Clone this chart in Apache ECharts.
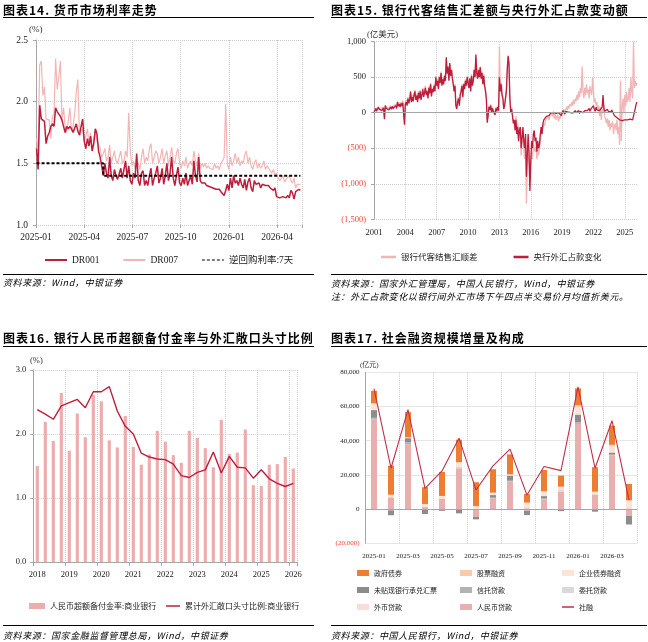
<!DOCTYPE html>
<html>
<head>
<meta charset="utf-8">
<script src="https://cdn.jsdelivr.net/npm/echarts@6/dist/echarts.min.js"></script>
<style>
body{margin:0;background:#fff;}
#page{position:relative;width:648px;height:642px;overflow:hidden;font-family:"Noto Sans CJK SC",sans-serif;color:#000;}
#chart{position:absolute;left:0;top:0;width:648px;height:642px;}
.title{position:absolute;font-size:12px;line-height:14px;font-weight:bold;letter-spacing:1px;white-space:nowrap;}
.rule{position:absolute;height:0;border-top:1px solid #000;}
.rule.thick{border-top-width:1.5px;}
.src{position:absolute;font-size:9px;line-height:12px;font-style:italic;letter-spacing:0.6px;white-space:nowrap;}
.unit{position:absolute;font-family:"Liberation Serif","Noto Sans CJK SC",serif;color:#333;white-space:nowrap;}
</style>
</head>
<body>
<div id="page">
  <div id="chart"></div>
  <div class="title" style="left:3px;top:3px">图表14. 货币市场利率走势</div>
  <div class="title" style="left:331px;top:3px">图表15. 银行代客结售汇差额与央行外汇占款变动额</div>
  <div class="title" style="left:3px;top:331px">图表16. 银行人民币超额备付金率与外汇敞口头寸比例</div>
  <div class="title" style="left:331px;top:331px">图表17. 社会融资规模增量及构成</div>
  <div class="rule thick" style="left:3px;top:17px;width:311px"></div>
  <div class="rule thick" style="left:331px;top:17px;width:316px"></div>
  <div class="rule thick" style="left:3px;top:345.5px;width:311px"></div>
  <div class="rule thick" style="left:331px;top:345.5px;width:316px"></div>
  <div class="rule" style="left:3px;top:274px;width:311px"></div>
  <div class="rule" style="left:331px;top:274px;width:316px"></div>
  <div class="rule" style="left:3px;top:625px;width:311px"></div>
  <div class="rule" style="left:331px;top:625px;width:316px"></div>
  <div class="src" style="left:3px;top:277px">资料来源：Wind，中银证券</div>
  <div class="src" style="left:331px;top:278px">资料来源：国家外汇管理局，中国人民银行，Wind，中银证券</div>
  <div class="src" style="left:331px;top:291px">注：外汇占款变化以银行间外汇市场下午四点半交易价月均值折美元。</div>
  <div class="src" style="left:3px;top:630px">资料来源：国家金融监督管理总局，Wind，中银证券</div>
  <div class="src" style="left:331px;top:630px">资料来源：中国人民银行，Wind，中银证券</div>
  <div class="unit" style="left:29px;top:24px;font-size:9px">(%)</div>
  <div class="unit" style="left:367px;top:27px;font-size:8.5px">(亿美元)</div>
  <div class="unit" style="left:30px;top:355px;font-size:8.5px">(%)</div>
  <div class="unit" style="left:360px;top:359px;font-size:7px">(亿元)</div>
</div>
<script>
// ---- 图表14 货币市场利率（每3天取一点，起点 2025-01-02 = 第1天）
const drFirstDay = 1
const drStepDays = 3
const dr001 = [
  1.62, 1.45, 1.97, 1.86, 1.85, 1.84, 1.66, 1.72, 1.75, 1.80,
  1.82, 1.80, 1.95, 1.92, 1.93, 1.88, 1.85, 1.80, 1.75, 1.80,
  1.78, 1.80, 1.78, 1.75, 1.74, 1.82, 1.76, 1.73, 1.74, 1.86,
  1.68, 1.62, 1.70, 1.64, 1.72, 1.60, 1.66, 1.78, 1.74, 1.60,
  1.55, 1.48, 1.40, 1.50, 1.42, 1.38, 1.55, 1.40, 1.36, 1.45,
  1.40, 1.37, 1.37, 1.46, 1.38, 1.38, 1.52, 1.38, 1.48, 1.36,
  1.33, 1.42, 1.38, 1.58, 1.36, 1.32, 1.42, 1.44, 1.32, 1.36,
  1.32, 1.40, 1.46, 1.32, 1.38, 1.42, 1.48, 1.34, 1.38, 1.46,
  1.33, 1.40, 1.50, 1.36, 1.42, 1.55, 1.38, 1.32, 1.40, 1.47,
  1.34, 1.32, 1.38, 1.33, 1.42, 1.32, 1.36, 1.40, 1.33, 1.52,
  1.40, 1.35, 1.55, 1.36, 1.34, 1.33, 1.34, 1.32, 1.32, 1.31,
  1.31, 1.30, 1.30, 1.29, 1.28, 1.29, 1.27, 1.26, 1.24, 1.28,
  1.33, 1.28, 1.38, 1.30, 1.40, 1.34, 1.36, 1.32, 1.38, 1.33,
  1.30, 1.37, 1.28, 1.35, 1.38, 1.30, 1.27, 1.36, 1.33, 1.32,
  1.34, 1.30, 1.33, 1.32, 1.32, 1.33, 1.32, 1.30, 1.30, 1.28,
  1.30, 1.23, 1.22, 1.22, 1.22, 1.23, 1.22, 1.22, 1.24, 1.22,
  1.28, 1.26, 1.21, 1.27, 1.27, 1.29, 1.28
]
const dr007 = [
  1.70, 1.60, 2.30, 2.33, 2.05, 2.12, 1.86, 1.86, 1.85, 1.70,
  1.88, 1.90, 2.35, 2.10, 2.20, 2.33, 1.85, 1.95, 1.80, 1.75,
  1.85, 1.95, 1.76, 1.80, 1.90, 2.08, 2.18, 1.72, 1.75, 1.78,
  1.68, 1.72, 1.78, 1.65, 1.75, 1.60, 1.70, 1.76, 1.68, 1.65,
  1.62, 1.55, 1.58, 1.62, 1.52, 1.55, 1.65, 1.50, 1.55, 1.60,
  1.52, 1.50, 1.55, 1.60, 1.50, 1.52, 1.60, 1.55, 1.91, 1.60,
  1.48, 1.52, 1.45, 1.55, 1.50, 1.45, 1.55, 1.62, 1.50, 1.55,
  1.52, 1.62, 1.66, 1.50, 1.55, 1.60, 1.58, 1.50, 1.55, 1.62,
  1.50, 1.56, 1.60, 1.48, 1.55, 1.63, 1.52, 1.50, 1.58, 1.62,
  1.50, 1.46, 1.52, 1.48, 1.55, 1.46, 1.50, 1.52, 1.48, 1.60,
  1.52, 1.48, 1.58, 1.46, 1.50, 1.47, 1.50, 1.46, 1.48, 1.46,
  1.47, 1.45, 1.50, 1.46, 1.48, 1.45, 1.50, 1.52, 1.55, 1.98,
  1.50, 1.45, 1.55, 1.48, 1.52, 1.58, 1.50, 1.55, 1.48, 1.52,
  1.50, 1.57, 1.60, 1.50, 1.55, 1.48, 1.45, 1.50, 1.53, 1.46,
  1.50, 1.46, 1.48, 1.52, 1.45, 1.48, 1.46, 1.44, 1.42, 1.45,
  1.40, 1.42, 1.38, 1.36, 1.38, 1.40, 1.35, 1.37, 1.36, 1.40,
  1.36, 1.34, 1.38, 1.30, 1.33, 1.32, 1.33
]
// 逆回购利率：按距 2025-01-01 的天数
const repoDays = [1, 127, 499]
const repoRate = [1.5, 1.4, 1.4]
const drTickLabels = ['2025-01', '2025-04', '2025-07', '2025-10', '2026-01', '2026-04']

// ---- 图表15 结售汇差额 / 外汇占款变化（月度，2001-01 起，亿美元）
const fxSettle = [
  20, 50, 40, 30, 60, 70, 40, 50, 30, 60, 80, 60,
  -60, 110, 80, 60, 90, 60, 70, 100, 60, 80, 90, 100,
  100, 120, 90, 160, 110, 140, 100, 150, 120, 170, 180, -120,
  140, 180, 120, 220, 160, 200, 280, 170, 250, 190, 270, 320,
  200, 260, 170, 300, 230, 320, 200, 270, 350, 250, 300, 380,
  270, 320, 230, 370, 290, 420, 260, 350, 310, 400, 330, 520,
  400, 470, 350, 520, 440, 580, 400, 490, 420, 540, 470, 750,
  580, 620, 470, 680, 540, 620, 500, 420, 320, 400, 130, 80,
  170, 220, 130, 270, 320, 400, 250, 420, 350, 470, 400, 520,
  440, 370, 500, 330, 540, 400, 470, 620, 520, 780, 560, 500,
  620, 520, 650, 500, 580, 430, 540, 400, 330, 230, -100, -30,
  100, 60, 120, 20, 80, 40, 60, -10, 80, 40, 100, 50,
  930, 300, 420, 280, 220, 80, 120, 220, 320, 620, 780, 680,
  250, 50, 80, -20, -100, -80, -200, -50, -250, -150, -350, -300,
  -250, -600, -400, -250, -500, -650, -350, -1280, -800, -450, -700, -900,
  -700, -550, -650, -450, -500, -550, -480, -650, -520, -600, -500, -400,
  -300, -250, -200, -150, -180, -100, -80, -120, -60, -100, -40, -20,
  0, -50, 20, -80, -20, -100, -60, -30, -120, -50, -80, 10,
  -40, 20, 50, -20, 30, 80, 40, 100, 60, 120, 90, 150,
  100, 180, 120, 200, 160, 250, 180, 300, 220, 350, 280, 650,
  300, 200, 350, 250, 400, 280, 330, 200, 380, 300, 250, 500,
  300, 150, 200, 100, 150, 50, 100, -50, 80, -100, 50, 0,
  100, -50, -100, -150, -80, -200, -100, -250, -150, -200, -120, -300,
  -200, -150, -250, -100, -300, -200, -450, 450, -400, 100, 200, 0,
  250, 100, 300, 150, 200, 350, 150, 500, 300, 200, 1000, 350,
  450, 380, 420
]
const cbFx = [
  0, 30, 60, 20, 40, 80, 50, 40, 60, 30, 50, 70,
  -90, 100, 60, 50, 70, 40, 60, 80, 50, 90, 60, 70,
  80, 100, 60, 150, 90, 120, 80, 130, 100, 140, 160, -170,
  120, 150, 100, 200, 130, 180, 300, 150, 220, 160, 250, 300,
  180, 240, 150, 280, 200, 300, 180, 250, 330, 220, 280, 350,
  250, 300, 200, 350, 270, 400, 230, 330, 290, 380, 300, 500,
  380, 450, 330, 500, 420, 560, 380, 470, 400, 520, 450, 780,
  550, 650, 450, 700, 520, 600, 480, 400, 300, 380, 100, 50,
  150, 200, 100, 250, 300, 380, 220, 400, 330, 450, 380, 500,
  420, 350, 480, 300, 520, 380, 450, 600, 500, 820, 550, 480,
  600, 500, 640, 480, 560, 400, 520, 380, 300, 200, -140, -50,
  80, 40, 100, 0, 60, 20, 40, -30, 60, 20, 80, 30,
  500, 300, 400, 250, 200, 50, 100, 200, 300, 600, 800, 700,
  200, 0, 50, -50, -150, -100, -250, -100, -300, -200, -400, -250,
  -200, -500, -350, -200, -400, -500, -300, -900, -600, -300, -550, -1100,
  -700, -400, -500, -300, -250, -400, -350, -550, -400, -500, -450, -300,
  -200, -300, -150, -100, -120, -80, -50, -60, -30, -40, -20, 0,
  20, 10, 0, -20, 10, -10, -30, 10, 0, -20, 10, -40,
  0, 30, 10, -20, 20, 0, 30, 10, -10, 20, 0, 10,
  20, 0, 10, 30, 0, 10, 20, 30, -10, 20, 30, 40,
  0, 20, 30, 10, 40, 30, 10, 60, 20, 50, 60, 30,
  100, 50, 20, 80, 40, 20, 60, 30, 50, 40, 80, 250,
  60, 20, 40, 10, 50, 20, 0, 30, 10, 40, 20, 30,
  -40, -50, -60, -70, -80, -90, -100, -90, -100, -110, -100, -110,
  -100, -110, -90, -100, -100, -100, -90, -100, -110, -100, -100, -80,
  60, 120, 150
]

// ---- 图表16 超额备付金率 / 外汇敞口头寸比例（季度，2018Q1 起，%）
const excessReserve = [
  1.50, 2.19, 1.89, 2.64,
  1.74, 2.32, 1.95, 2.61,
  2.51, 1.90, 1.79, 2.28,
  1.80, 1.52, 1.68, 2.05,
  1.88, 1.67, 1.55, 2.05,
  1.94, 1.78, 1.48, 2.22,
  1.69, 1.71, 2.07, 1.20,
  1.19, 1.52, 1.53, 1.64,
  1.46
]
const fxExposure = [
  2.38, 2.31, 2.23, 2.44,
  2.49, 2.54, 2.41, 2.66,
  2.66, 2.74, 2.36, 2.12,
  2.00, 1.70, 1.64, 1.61,
  1.60, 1.53, 1.35, 1.32,
  1.40, 1.44, 1.72, 1.39,
  1.65, 1.48, 1.47, 1.31,
  1.44, 1.30, 1.23, 1.18,
  1.23
]

// ---- 图表17 社融增量及构成（亿元）
const sfMonths = ['2025-01', '2025-02', '2025-03', '2025-04', '2025-05', '2025-06', '2025-07', '2025-08',
  '2025-09', '2025-10', '2025-11', '2025-12', '2026-01', '2026-02', '2026-03', '2026-04']
const rmbLoan = [52400, 6900, 38000, 1200, 6200, 23900, -4500, 6200, 16100, -1000, 5700, 10200, 49800, 8600, 31400, -4000]
const fxLoan = [0, 0, 0, 0, 0, 0, 0, 0, 0, 0, 0, 0, 0, 0, 0, 1200]
const entrustLoan = [0, 0, 0, 0, 0, 1000, 0, 0, 0, 1000, 0, 1400, 0, 0, 0, 0]
const trustLoan = [1000, -800, 1000, -400, 0, 0, 0, 500, 500, 0, 700, 0, 1000, 0, 500, 0]
const billAccept = [4500, -2800, 2500, -2500, -1000, -2500, -1500, 1500, 3000, -2500, 1200, -1200, 4500, -1500, 1200, -5000]
const corpBond = [3900, 1200, 500, 1500, 1500, 2500, 1500, 1400, 700, 2300, 2400, 1500, 4500, 1200, 3500, 3500]
const equityFin = [0, 300, 0, 300, 0, 0, 300, 0, 0, 500, 600, 0, 1000, 400, 1000, 600]
const govBond = [7400, 17000, 14700, 9800, 14000, 13200, 13900, 13700, 11700, 5000, 12300, 6500, 9800, 14300, 11200, 9400]
const sfTotal = [70400, 23900, 58200, 12150, 22300, 41500, 11200, 25300, 35100, 8200, 24900, 22500, 71500, 23900, 51700, 5300]

// 类目
const months = []
for (let y = 2001; y <= 2026; y++) {
  for (let m = 1; m <= 12; m++) {
    if (y === 2026 && m > 3) break
    months.push(y + '-' + (m < 10 ? '0' + m : m))
  }
}
const quarters = []
for (let y = 2018; y <= 2026; y++) {
  for (let q = 1; q <= 4; q++) {
    if (y === 2026 && q > 1) break
    quarters.push(y + 'Q' + q)
  }
}

function thousands(v) {
  const n = Math.abs(Number(v))
  const s = n.toLocaleString('en-US')
  return Number(v) < 0 ? '(' + s + ')' : s
}
function isTriYear(i, v) {
  return v.slice(5) === '01' && (Number(v.slice(0, 4)) - 2001) % 3 === 0
}

const serif = 'Liberation Serif, Noto Sans CJK SC'
const cjk = 'Noto Sans CJK SC'
const axisGray = '#A6A6A6'
const dottedStyle = { type: 'dotted', color: '#CCCCCC', width: 1 }
const negRed = '#F0463C'
const darkRed = '#BE1E3C'
const lightPink = '#F2B5B5'
const dashIcon = 'path://M0,0h3v1h-3z M5,0h3v1h-3z M10,0h3v1h-3z M15,0h3v1h-3z M20,0h2v1h-2z'

const chart = echarts.init(document.getElementById('chart'))

chart.setOption({
  animation: false,
  grid: [
    { left: 36, top: 40, width: 266, height: 185 },
    { left: 374, top: 41.7, width: 263, height: 177.6 },
    { left: 33.3, top: 370, width: 264, height: 192 },
    { left: 365.5, top: 372.3, width: 272, height: 171 }
  ],
  legend: [
    {
      data: [{ name: 'DR001', icon: 'rect' }, { name: 'DR007', icon: 'rect' }, { name: '逆回购利率:7天', icon: dashIcon }],
      left: 45, top: 254, padding: 0, itemWidth: 22, itemHeight: 2, itemGap: 24,
      textStyle: { fontFamily: serif, fontSize: 9.5, lineHeight: 12, color: '#222' }
    },
    {
      data: [{ name: '银行代客结售汇顺差', icon: 'rect' }, { name: '央行外汇占款变化', icon: 'rect' }],
      left: 381, top: 251, padding: 0, itemWidth: 15, itemHeight: 2.5, itemGap: 36,
      textStyle: { fontFamily: cjk, fontSize: 8.5, lineHeight: 12, color: '#222' }
    },
    {
      data: [{ name: '人民币超额备付金率:商业银行', icon: 'rect' }],
      left: 29, top: 600, padding: 0, itemWidth: 16, itemHeight: 6,
      textStyle: { fontFamily: cjk, fontSize: 8, lineHeight: 12, color: '#222' }
    },
    {
      data: [{ name: '累计外汇敞口头寸比例:商业银行', icon: 'rect' }],
      left: 166, top: 600, padding: 0, itemWidth: 14, itemHeight: 1.5,
      textStyle: { fontFamily: cjk, fontSize: 8, lineHeight: 12, color: '#222' }
    },
    {
      orient: 'vertical', left: 357, top: 568, padding: 0, itemWidth: 12, itemHeight: 6, itemGap: 7, icon: 'rect',
      data: ['政府债券', '未贴现银行承兑汇票', '外币贷款'],
      textStyle: { fontFamily: cjk, fontSize: 7, lineHeight: 10, color: '#222' }
    },
    {
      orient: 'vertical', left: 460, top: 568, padding: 0, itemWidth: 12, itemHeight: 6, itemGap: 7, icon: 'rect',
      data: ['股票融资', '信托贷款', '人民币贷款'],
      textStyle: { fontFamily: cjk, fontSize: 7, lineHeight: 10, color: '#222' }
    },
    {
      orient: 'vertical', left: 562, top: 568, padding: 0, itemWidth: 12, itemHeight: 6, itemGap: 7, icon: 'rect',
      data: ['企业债券融资', '委托贷款'],
      textStyle: { fontFamily: cjk, fontSize: 7, lineHeight: 10, color: '#222' }
    },
    {
      left: 562, top: 602, padding: 0, itemWidth: 12, itemHeight: 1.5, icon: 'rect',
      data: ['社融'],
      textStyle: { fontFamily: cjk, fontSize: 7, lineHeight: 10, color: '#222' }
    }
  ],
  xAxis: [
    {
      // 距 2025-01-01 的天数，每季约 91 天
      type: 'value', gridIndex: 0, min: 0, max: 502, interval: 91,
      axisLine: { show: false },
      axisTick: { show: true, length: 3, lineStyle: { color: axisGray } },
      axisLabel: {
        margin: 8, fontFamily: serif, fontSize: 9.5, color: '#222',
        formatter: function (v) {
          const k = v / 91
          return Math.abs(k - Math.round(k)) < 0.01 ? (drTickLabels[Math.round(k)] || '') : ''
        }
      },
      splitLine: { show: true, lineStyle: dottedStyle }
    },
    {
      type: 'category', gridIndex: 1, data: months, boundaryGap: false,
      axisLine: { show: false },
      axisTick: { show: false },
      axisLabel: {
        margin: 9, fontFamily: serif, fontSize: 8.5, color: '#222',
        interval: isTriYear,
        formatter: function (v) { return v.slice(0, 4) }
      },
      splitLine: { show: true, interval: isTriYear, lineStyle: dottedStyle }
    },
    {
      type: 'category', gridIndex: 2, data: quarters, boundaryGap: true,
      axisLine: { show: true, lineStyle: { color: axisGray } },
      axisTick: { show: true, interval: 3, length: 4, lineStyle: { color: axisGray } },
      axisLabel: {
        interval: 3, margin: 9, fontFamily: serif, fontSize: 8.5, color: '#222',
        formatter: function (v) { return v.slice(0, 4) }
      },
      splitLine: { show: true, interval: 3, lineStyle: dottedStyle }
    },
    {
      type: 'category', gridIndex: 3, data: sfMonths, boundaryGap: true,
      axisLine: { show: false },
      axisTick: { show: false },
      axisLabel: { interval: 1, margin: 9, fontFamily: serif, fontSize: 7, color: '#222' },
      splitLine: { show: true, interval: 1, lineStyle: dottedStyle }
    }
  ],
  yAxis: [
    {
      type: 'value', gridIndex: 0, min: 1.0, max: 2.5, interval: 0.5,
      axisLine: { show: true, lineStyle: { color: axisGray } },
      axisTick: { show: true, length: 3, lineStyle: { color: axisGray } },
      axisLabel: { margin: 8, fontFamily: serif, fontSize: 9.5, color: '#222', formatter: function (v) { return v.toFixed(1) } },
      splitLine: { show: true, lineStyle: dottedStyle }
    },
    {
      type: 'value', gridIndex: 1, min: -1500, max: 1000, interval: 500,
      axisLine: { show: true, lineStyle: { color: axisGray } },
      axisTick: { show: true, length: 3, lineStyle: { color: axisGray } },
      axisLabel: {
        margin: 8, fontFamily: serif, fontSize: 8.5, formatter: thousands,
        color: function (v) { return Number(v) < 0 ? negRed : '#222' }
      },
      splitLine: { show: true, lineStyle: dottedStyle }
    },
    {
      type: 'value', gridIndex: 2, min: 0, max: 3, interval: 1,
      axisLine: { show: true, lineStyle: { color: axisGray } },
      axisTick: { show: true, length: 3, lineStyle: { color: axisGray } },
      axisLabel: { margin: 7, fontFamily: serif, fontSize: 8.5, color: '#222', formatter: function (v) { return v.toFixed(1) } },
      splitLine: { show: true, lineStyle: dottedStyle }
    },
    {
      type: 'value', gridIndex: 3, min: -20000, max: 80000, interval: 20000,
      axisLine: { show: true, lineStyle: { color: axisGray } },
      axisTick: { show: false },
      axisLabel: {
        margin: 6, fontFamily: serif, fontSize: 7, formatter: thousands,
        color: function (v) { return Number(v) < 0 ? negRed : '#222' }
      },
      splitLine: { show: true, lineStyle: dottedStyle }
    }
  ],
  series: [
    {
      name: 'DR007', type: 'line', xAxisIndex: 0, yAxisIndex: 0, symbol: 'none',
      lineStyle: { color: lightPink, width: 1.2 }, itemStyle: { color: lightPink },
      data: dr007.map(function (v, i) { return [drFirstDay + drStepDays * i, v] })
    },
    {
      name: 'DR001', type: 'line', xAxisIndex: 0, yAxisIndex: 0, symbol: 'none',
      lineStyle: { color: darkRed, width: 1.5 }, itemStyle: { color: darkRed },
      data: dr001.map(function (v, i) { return [drFirstDay + drStepDays * i, v] })
    },
    {
      name: '逆回购利率:7天', type: 'line', xAxisIndex: 0, yAxisIndex: 0, symbol: 'none', step: 'end',
      lineStyle: { color: '#000', width: 2, type: [3, 2] }, itemStyle: { color: '#000' },
      data: repoDays.map(function (d, i) { return [d, repoRate[i]] })
    },
    {
      name: '银行代客结售汇顺差', type: 'line', xAxisIndex: 1, yAxisIndex: 1, symbol: 'none',
      lineStyle: { color: lightPink, width: 1.3 }, itemStyle: { color: lightPink },
      data: fxSettle,
      markLine: {
        silent: true, symbol: 'none', label: { show: false },
        lineStyle: { color: axisGray, type: 'solid', width: 1 },
        data: [{ yAxis: 0 }]
      }
    },
    {
      name: '央行外汇占款变化', type: 'line', xAxisIndex: 1, yAxisIndex: 1, symbol: 'none',
      lineStyle: { color: darkRed, width: 1.3 }, itemStyle: { color: darkRed },
      data: cbFx
    },
    {
      name: '人民币超额备付金率:商业银行', type: 'bar', xAxisIndex: 2, yAxisIndex: 2, barWidth: 3.2,
      itemStyle: { color: '#EDADAD' }, data: excessReserve
    },
    {
      name: '累计外汇敞口头寸比例:商业银行', type: 'line', xAxisIndex: 2, yAxisIndex: 2, symbol: 'none',
      lineStyle: { color: darkRed, width: 1.4 }, itemStyle: { color: darkRed }, data: fxExposure
    },
    { name: '人民币贷款', type: 'bar', stack: 'sf', xAxisIndex: 3, yAxisIndex: 3, barWidth: 6, itemStyle: { color: '#E9AEAE' }, data: rmbLoan },
    { name: '外币贷款', type: 'bar', stack: 'sf', xAxisIndex: 3, yAxisIndex: 3, barWidth: 6, itemStyle: { color: '#FBDCDC' }, data: fxLoan },
    { name: '委托贷款', type: 'bar', stack: 'sf', xAxisIndex: 3, yAxisIndex: 3, barWidth: 6, itemStyle: { color: '#D9D9D9' }, data: entrustLoan },
    { name: '信托贷款', type: 'bar', stack: 'sf', xAxisIndex: 3, yAxisIndex: 3, barWidth: 6, itemStyle: { color: '#B3B3B3' }, data: trustLoan },
    { name: '未贴现银行承兑汇票', type: 'bar', stack: 'sf', xAxisIndex: 3, yAxisIndex: 3, barWidth: 6, itemStyle: { color: '#8C8C8C' }, data: billAccept },
    { name: '企业债券融资', type: 'bar', stack: 'sf', xAxisIndex: 3, yAxisIndex: 3, barWidth: 6, itemStyle: { color: '#FCE4D6' }, data: corpBond },
    { name: '股票融资', type: 'bar', stack: 'sf', xAxisIndex: 3, yAxisIndex: 3, barWidth: 6, itemStyle: { color: '#F8CBAD' }, data: equityFin },
    { name: '政府债券', type: 'bar', stack: 'sf', xAxisIndex: 3, yAxisIndex: 3, barWidth: 6, itemStyle: { color: '#ED7D31' }, data: govBond },
    {
      name: '社融', type: 'line', xAxisIndex: 3, yAxisIndex: 3, symbol: 'none',
      lineStyle: { color: '#C0304A', width: 1.1 }, itemStyle: { color: '#C0304A' }, data: sfTotal,
      markLine: {
        silent: true, symbol: 'none', label: { show: false },
        lineStyle: { color: axisGray, type: 'solid', width: 1 },
        data: [{ yAxis: 0 }]
      }
    }
  ]
})
</script>
</body>
</html>
